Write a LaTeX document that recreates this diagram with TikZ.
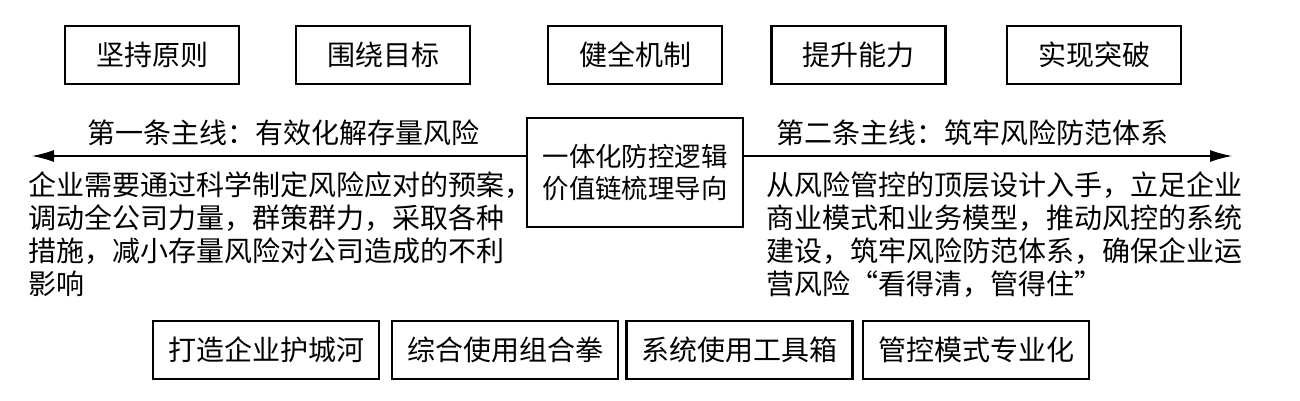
\documentclass[tikz,border=0pt]{standalone}
\usepackage{fontspec}
\setmainfont{Noto Sans CJK SC}
\usetikzlibrary{arrows.meta}

\begin{document}
\begin{tikzpicture}[x=0.5pt,y=-0.5pt,
  font=\fontsize{14}{16.6}\selectfont,
  topbox/.style={draw,line width=1.1pt,minimum width=87pt,minimum height=29pt,inner sep=0pt},
  botbox/.style={topbox,minimum width=113pt},
  mainline/.style={line width=0.6pt,-{Latex[length=11pt,width=6pt]}}]
  \useasboundingbox (0,0) rectangle (1300,401);
  % upper row
  \foreach \n/\x/\t in {a/152/坚持原则,b/383/围绕目标,c/635/健全机制,d/858.5/提升能力,e/1094/实现突破}
  \node[topbox] (top\n) at (\x,55) {\t};
  % centre and the two main lines
  \node[draw,line width=1.1pt,minimum width=108pt,minimum height=54.5pt,
    align=center,inner sep=0pt,font=\fontsize{13.2}{16}\selectfont] (core) at (635,172.5)
    {一体化防控逻辑\\价值链梳理导向};
  \coordinate (lend) at (32,156);
  \coordinate (rend) at (1232,156);
  \draw[mainline] (core.west |- lend) -- (lend);
  \draw[mainline] (core.east |- rend) -- (rend);
  \node[anchor=west,inner sep=0pt] (lineone) at (87,133) {第一条主线：有效化解存量风险};
  \node[anchor=west,inner sep=0pt] (linetwo) at (776,133) {第二条主线：筑牢风险防范体系};
  \node[anchor=north west,align=left,inner sep=0pt] (textone) at (28,171)
    {企业需要通过科学制定风险应对的预案，\\调动全公司力量，群策群力，采取各种\\措施，减小存量风险对公司造成的不利\\影响};
  \node[anchor=north west,align=left,inner sep=0pt] (texttwo) at (766,171)
    {从风险管控的顶层设计入手，立足企业\\商业模式和业务模型，推动风控的系统\\建设，筑牢风险防范体系，确保企业运\\营风险“看得清，管得住”};
  % lower row
  \foreach \n/\x/\t in {a/266/打造企业护城河,b/505/综合使用组合拳,c/739.5/系统使用工具箱,d/976/管控模式专业化}
  \node[botbox] (bot\n) at (\x,350) {\t};
\end{tikzpicture}
\end{document}
